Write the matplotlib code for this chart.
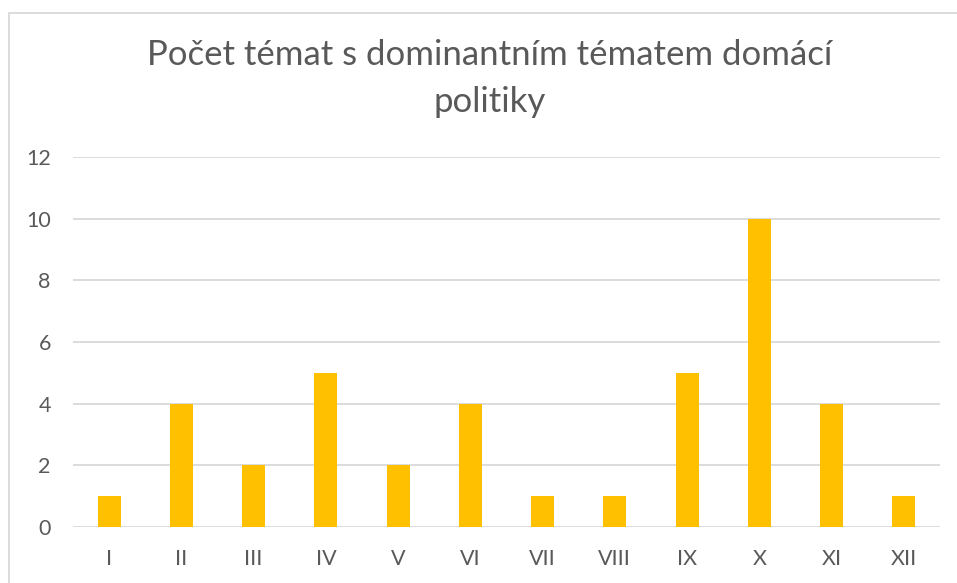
import matplotlib.pyplot as plt
from matplotlib.patches import Rectangle

months = ["I", "II", "III", "IV", "V", "VI", "VII", "VIII", "IX", "X", "XI", "XII"]
counts = [1, 4, 2, 5, 2, 4, 1, 1, 5, 10, 4, 1]

plt.rcParams['font.family'] = ['Lato', 'DejaVu Sans']

W, H = 957, 583
fig = plt.figure(figsize=(W / 100, H / 100), dpi=100)
ax = fig.add_axes([73 / W, 1 - 527 / H, (940 - 73) / W, (527 - 157) / H])

# chart frame (cut off at right and bottom)
fig.patches.append(Rectangle((9 / W, -0.1), 1.2, 1 - 13 / H + 0.1, transform=fig.transFigure,
                             fill=False, edgecolor="#D9D9D9", linewidth=1.3))

ax.bar(range(len(months)), counts, width=0.32, color="#FFC000", zorder=3)
ax.set_xlim(-0.5, len(months) - 0.5)
ax.set_ylim(0, 12)
ax.set_yticks(range(0, 13, 2))
ax.set_xticks(range(len(months)))
ax.set_xticklabels(months)
ax.grid(axis="y", color="#D9D9D9", linewidth=1.3, zorder=0)
for s in ax.spines.values():
    s.set_visible(False)
ax.tick_params(length=0, labelsize=15.5, labelcolor="#595959")
ax.tick_params(axis="y", pad=16)
ax.tick_params(axis="x", pad=16)

fig.text(490 / W, 1 - 55 / H, "Počet témat s dominantním tématem domácí",
         ha="center", va="center", fontsize=25, color="#595959")
fig.text(490 / W, 1 - 102 / H, "politiky",
         ha="center", va="center", fontsize=25, color="#595959")

fig.savefig("out.png", dpi=100)
